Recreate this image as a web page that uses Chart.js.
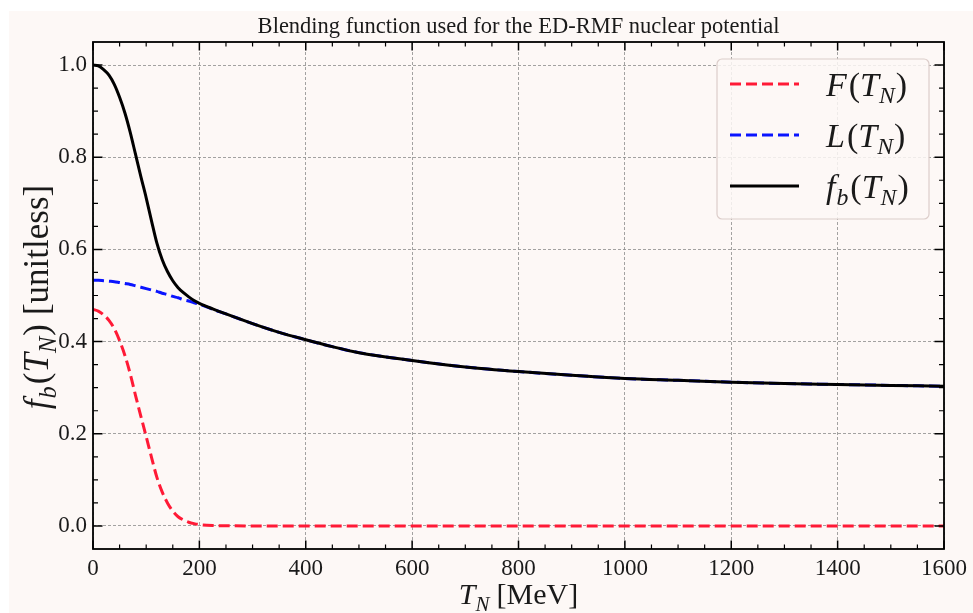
<!DOCTYPE html>
<html>
<head>
<meta charset="utf-8">
<title>Blending function</title>
<script src="https://cdn.jsdelivr.net/npm/chart.js@4.4.1/dist/chart.umd.min.js"></script>
<style>
  html, body { margin: 0; padding: 0; background: #ffffff; }
  #blend-chart { display: block; }
</style>
</head>
<body>
<canvas id="blend-chart" width="973" height="613"></canvas>
<script>
// Kinetic energy grid (MeV)
const tN = [0, 10, 20, 30, 40, 50, 60, 70, 80, 90, 100, 110, 120, 130, 140, 150, 160, 170, 180, 190, 200,
            225, 250, 300, 350, 400, 450, 500, 600, 700, 800, 900, 1000, 1100, 1200, 1300, 1400, 1500, 1600];

// F(T_N)
const fValues = [0.470, 0.466, 0.458, 0.446, 0.428, 0.402, 0.370, 0.330, 0.283, 0.238, 0.194, 0.149, 0.106, 0.074,
                 0.050, 0.032, 0.020, 0.013, 0.008, 0.005, 0.003, 0.001, 0.0005, 0, 0, 0, 0, 0,
                 0, 0, 0, 0, 0, 0, 0, 0, 0, 0, 0];

// L(T_N)
const lValues = [0.533, 0.533, 0.532, 0.531, 0.530, 0.528, 0.526, 0.524, 0.521, 0.518, 0.515, 0.512, 0.509, 0.505,
                 0.502, 0.498, 0.495, 0.491, 0.488, 0.484, 0.481, 0.470, 0.460, 0.439, 0.420, 0.404, 0.389, 0.376,
                 0.359, 0.345, 0.335, 0.327, 0.320, 0.316, 0.312, 0.309, 0.307, 0.305, 0.303];

// f_b(T_N)
const fbValues = [1.000, 0.998, 0.990, 0.978, 0.958, 0.930, 0.896, 0.854, 0.806, 0.758, 0.712, 0.662, 0.614, 0.578,
                  0.552, 0.532, 0.517, 0.506, 0.497, 0.489, 0.483, 0.471, 0.460, 0.439, 0.420, 0.404, 0.389, 0.376,
                  0.359, 0.345, 0.335, 0.327, 0.320, 0.316, 0.312, 0.309, 0.307, 0.305, 0.303];

// Axis ticks
const xTicks = [0, 200, 400, 600, 800, 1000, 1200, 1400, 1600];
const xTickLabels = ['0', '200', '400', '600', '800', '1000', '1200', '1400', '1600'];
const yTicks = [0, 0.2, 0.4, 0.6, 0.8, 1.0];
const yTickLabels = ['0.0', '0.2', '0.4', '0.6', '0.8', '1.0'];

const SERIF = '"Liberation Serif", "DejaVu Serif", serif';
const FIG_BG = '#fdf8f6';

function toPoints(values) {
    return tN.map((t, i) => ({ x: t, y: values[i] }));
}

// Rich text: italic letters and subscripts like f_b(T_N)
function richWidth(ctx, segs, size) {
    let w = 0;
    segs.forEach(s => {
        const fs = s.sub ? size * 0.7 : size;
        ctx.font = (s.it ? 'italic ' : '') + fs + 'px ' + SERIF;
        w += ctx.measureText(s.t).width + (s.gap || 0);
    });
    return w;
}

function drawRich(ctx, segs, x, y, size, align) {
    let cx = x;
    if (align === 'center') cx = x - richWidth(ctx, segs, size) / 2;
    ctx.textAlign = 'left';
    ctx.textBaseline = 'alphabetic';
    segs.forEach(s => {
        const fs = s.sub ? size * 0.7 : size;
        ctx.font = (s.it ? 'italic ' : '') + fs + 'px ' + SERIF;
        ctx.fillText(s.t, cx, s.sub ? y + size * 0.22 : y);
        cx += ctx.measureText(s.t).width + (s.gap || 0);
    });
}

const seriesLabels = [
    [{ t: 'F', it: true, gap: 2 }, { t: '(' }, { t: 'T', it: true }, { t: 'N', it: true, sub: true, gap: 1 }, { t: ')' }],
    [{ t: 'L', it: true, gap: 2 }, { t: '(' }, { t: 'T', it: true }, { t: 'N', it: true, sub: true, gap: 1 }, { t: ')' }],
    [{ t: 'f', it: true, gap: 1 }, { t: 'b', it: true, sub: true, gap: 2 }, { t: '(' }, { t: 'T', it: true }, { t: 'N', it: true, sub: true, gap: 1 }, { t: ')' }]
];

// Background, frame, inward ticks, titles and legend
const figurePlugin = {
    id: 'figure',
    beforeDraw(chart) {
        const ctx = chart.ctx;
        ctx.save();
        ctx.fillStyle = '#ffffff';
        ctx.fillRect(0, 0, chart.width, chart.height);
        ctx.fillStyle = FIG_BG;
        ctx.fillRect(9, 11, chart.width - 9, chart.height - 11);
        ctx.restore();
    },
    afterDatasetsDraw(chart) {
        const ctx = chart.ctx;
        const a = chart.chartArea;
        const xs = chart.scales.x;
        const ys = chart.scales.y;
        ctx.save();
        ctx.strokeStyle = '#000000';

        // minor ticks
        ctx.lineWidth = 1.2;
        ctx.beginPath();
        for (let v = 50; v < 1600; v += 50) {
            if (v % 200 === 0) continue;
            const px = xs.getPixelForValue(v);
            ctx.moveTo(px, a.bottom); ctx.lineTo(px, a.bottom - 4.5);
            ctx.moveTo(px, a.top); ctx.lineTo(px, a.top + 4.5);
        }
        for (let k = -1; k <= 21; k++) {
            if (k % 4 === 0) continue;
            const v = k * 0.05;
            const py = ys.getPixelForValue(v);
            if (py < a.top + 1 || py > a.bottom - 1) continue;
            ctx.moveTo(a.left, py); ctx.lineTo(a.left + 5, py);
            ctx.moveTo(a.right, py); ctx.lineTo(a.right - 5, py);
        }
        ctx.stroke();

        // major ticks
        ctx.lineWidth = 1.5;
        ctx.beginPath();
        xTicks.forEach(v => {
            const px = xs.getPixelForValue(v);
            ctx.moveTo(px, a.bottom); ctx.lineTo(px, a.bottom - 8.5);
            ctx.moveTo(px, a.top); ctx.lineTo(px, a.top + 8.5);
        });
        yTicks.forEach(v => {
            const py = ys.getPixelForValue(v);
            ctx.moveTo(a.left, py); ctx.lineTo(a.left + 9.5, py);
            ctx.moveTo(a.right, py); ctx.lineTo(a.right - 9.5, py);
        });
        ctx.stroke();

        // frame
        ctx.lineWidth = 1.8;
        ctx.strokeRect(a.left, a.top, a.right - a.left, a.bottom - a.top);
        ctx.restore();
    },
    afterDraw(chart) {
        const ctx = chart.ctx;
        const a = chart.chartArea;
        const midX = (a.left + a.right) / 2;
        ctx.save();
        ctx.fillStyle = '#1a1a1a';

        // title
        ctx.font = '22.5px ' + SERIF;
        ctx.textAlign = 'center';
        ctx.textBaseline = 'alphabetic';
        ctx.fillText('Blending function used for the ED-RMF nuclear potential', midX, 33);

        // x axis title
        drawRich(ctx, [{ t: 'T', it: true }, { t: 'N', it: true, sub: true, gap: 7 }, { t: '[MeV]' }],
                 midX, 604, 30, 'center');

        // y axis title
        ctx.save();
        ctx.translate(48, 297);
        ctx.rotate(-Math.PI / 2);
        drawRich(ctx, [{ t: 'f', it: true, gap: 1 }, { t: 'b', it: true, sub: true, gap: 2 }, { t: '(' },
                       { t: 'T', it: true }, { t: 'N', it: true, sub: true, gap: 1 }, { t: ')', gap: 9 }, { t: '[unitless]' }],
                 0, 0, 35, 'center');
        ctx.restore();

        // legend box
        const bx = 717, by = 59, bw = 212, bh = 160, r = 5;
        ctx.beginPath();
        ctx.moveTo(bx + r, by);
        ctx.arcTo(bx + bw, by, bx + bw, by + bh, r);
        ctx.arcTo(bx + bw, by + bh, bx, by + bh, r);
        ctx.arcTo(bx, by + bh, bx, by, r);
        ctx.arcTo(bx, by, bx + bw, by, r);
        ctx.closePath();
        ctx.fillStyle = 'rgba(253, 248, 246, 0.85)';
        ctx.fill();
        ctx.strokeStyle = '#dccdca';
        ctx.lineWidth = 1.2;
        ctx.stroke();

        chart.data.datasets.forEach((ds, i) => {
            const rowY = 84 + i * 51;
            ctx.save();
            ctx.strokeStyle = ds.borderColor;
            ctx.lineWidth = ds.borderWidth;
            ctx.setLineDash(ds.borderDash || []);
            ctx.beginPath();
            ctx.moveTo(730, rowY);
            ctx.lineTo(799, rowY);
            ctx.stroke();
            ctx.restore();
            ctx.fillStyle = '#1a1a1a';
            drawRich(ctx, seriesLabels[i], 826, rowY + 12, 34, 'left');
        });
        ctx.restore();
    }
};

const chart = new Chart(document.getElementById('blend-chart').getContext('2d'), {
    type: 'line',
    data: {
        datasets: [
            {
                label: 'F(T_N)',
                data: toPoints(fValues),
                borderColor: '#ff1a36',
                borderWidth: 3,
                borderDash: [11, 5],
                order: 2
            },
            {
                label: 'L(T_N)',
                data: toPoints(lValues),
                borderColor: '#0a14ff',
                borderWidth: 3,
                borderDash: [11, 5],
                order: 1
            },
            {
                label: 'f_b(T_N)',
                data: toPoints(fbValues),
                borderColor: '#000000',
                borderWidth: 3,
                order: 0
            }
        ]
    },
    options: {
        responsive: false,
        devicePixelRatio: 1,
        animation: false,
        events: [],
        elements: {
            point: { radius: 0 },
            line: { cubicInterpolationMode: 'monotone', fill: false }
        },
        layout: { padding: { top: 42, right: 26, left: 0, bottom: 0 } },
        plugins: {
            legend: { display: false },
            title: { display: false },
            tooltip: { enabled: false }
        },
        scales: {
            x: {
                type: 'linear',
                min: 0,
                max: 1600,
                afterBuildTicks: scale => { scale.ticks = xTicks.map(v => ({ value: v })); },
                afterFit: scale => { scale.height = 64; },
                ticks: {
                    color: '#1a1a1a',
                    font: { family: SERIF, size: 23 },
                    padding: 6,
                    maxRotation: 0,
                    callback: (value, index) => xTickLabels[index]
                },
                grid: { color: '#8c8c8c', lineWidth: 0.8, drawTicks: false },
                border: { display: false, dash: [3, 2] }
            },
            y: {
                type: 'linear',
                min: -0.05,
                max: 1.05,
                afterBuildTicks: scale => { scale.ticks = yTicks.map(v => ({ value: v })); },
                afterFit: scale => { scale.width = 93; },
                ticks: {
                    color: '#1a1a1a',
                    font: { family: SERIF, size: 23 },
                    padding: 6,
                    callback: (value, index) => yTickLabels[index]
                },
                grid: { color: '#8c8c8c', lineWidth: 0.8, drawTicks: false },
                border: { display: false, dash: [3, 2] }
            }
        }
    },
    plugins: [figurePlugin]
});
</script>
</body>
</html>
